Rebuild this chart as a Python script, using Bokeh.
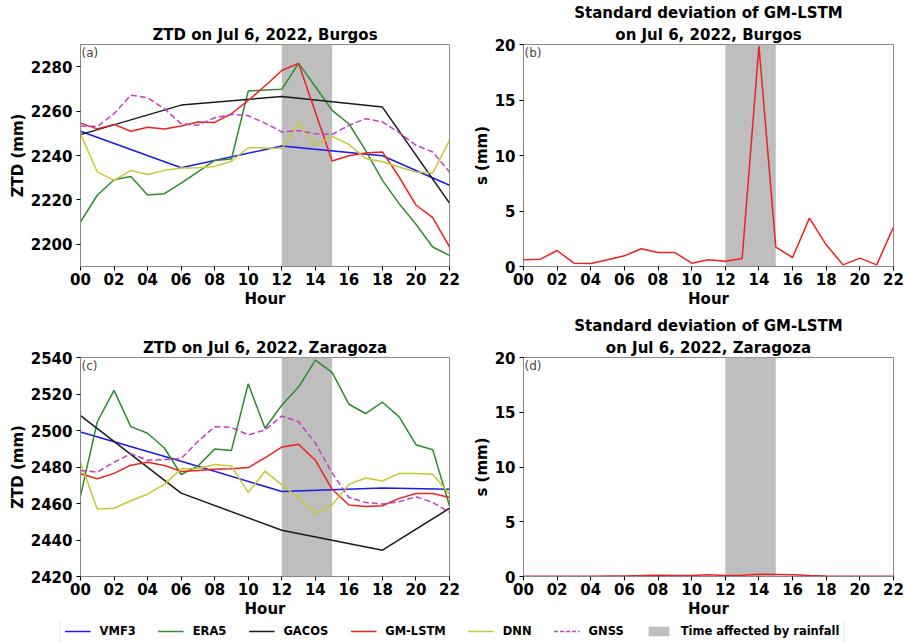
from bokeh.plotting import figure
from bokeh.models import Range1d, FixedTicker, BoxAnnotation, Label, Title, Legend, LegendItem
from bokeh.layouts import column, row
from bokeh.embed import file_html
from bokeh.resources import INLINE

# ---------------- data ----------------
HOURS = list(range(23))
HOURS_6H = [0, 6, 12, 18, 22]
HOUR_TICKS = [0, 2, 4, 6, 8, 10, 12, 14, 16, 18, 20, 22]
HOUR_LABELS = ["00", "02", "04", "06", "08", "10", "12", "14", "16", "18", "20", "22"]
RAIN_START = 12
RAIN_END = 15

# Burgos ZTD (mm)
burgos_vmf3 = [2250.9, 2234.5, 2244.3, 2239.9, 2226.6]
burgos_gacos = [2249.4, 2262.7, 2266.6, 2261.8, 2218.6]
burgos_era5 = [2210.1, 2222.1, 2229.1, 2230.5, 2222.2, 2222.8, 2227.6, 2232.6, 2237.8, 2238.4,
               2269.0, 2269.5, 2269.8, 2281.5, 2271.1, 2260.3, 2254.3, 2242.3, 2228.8, 2218.3,
               2209.0, 2198.8, 2195.0]
burgos_gmlstm = [2254.6, 2252.0, 2254.0, 2250.9, 2252.7, 2251.9, 2253.3, 2255.1, 2254.9, 2258.8,
                 2264.8, 2271.3, 2278.3, 2281.5, 2259.6, 2237.5, 2239.9, 2241.1, 2241.6, 2230.3,
                 2217.7, 2212.0, 2198.8]
burgos_dnn = [2249.8, 2232.6, 2228.8, 2233.3, 2231.4, 2233.3, 2234.4, 2234.5, 2235.1, 2237.4,
              2243.5, 2243.4, 2243.1, 2254.6, 2244.6, 2248.6, 2245.0, 2238.6, 2237.2, 2234.8,
              2232.6, 2232.1, 2246.8]
burgos_gnss = [2253.3, 2253.1, 2258.8, 2267.2, 2266.0, 2261.1, 2254.3, 2253.6, 2257.0, 2258.5,
               2257.9, 2254.6, 2250.6, 2251.2, 2249.8, 2249.5, 2253.6, 2256.6, 2255.1, 2250.3,
               2244.6, 2241.6, 2232.6]
burgos_std = [0.6, 0.66, 1.44, 0.3, 0.27, 0.6, 0.96, 1.6, 1.26, 1.26, 0.3, 0.6, 0.48, 0.72,
              19.85, 1.74, 0.81, 4.36, 1.95, 0.15, 0.75, 0.15, 3.55]

# Zaragoza ZTD (mm)
zaragoza_vmf3 = [2499.2, 2483.2, 2466.6, 2468.5, 2467.8]
zaragoza_gacos = [2508.2, 2465.7, 2445.3, 2434.4, 2457.4]
zaragoza_era5 = [2464.2, 2504.8, 2522.0, 2502.1, 2498.5, 2490.4, 2475.9, 2480.5, 2489.8, 2489.1,
                 2525.6, 2501.2, 2513.8, 2523.8, 2538.6, 2531.9, 2514.4, 2509.3, 2515.5, 2507.5,
                 2492.2, 2489.5, 2458.8]
zaragoza_gmlstm = [2476.3, 2473.6, 2476.5, 2481.0, 2482.6, 2480.8, 2477.6, 2478.1, 2478.7, 2479.0,
                   2479.7, 2485.0, 2490.9, 2492.5, 2483.7, 2467.8, 2459.2, 2458.4, 2458.8, 2462.8,
                   2465.5, 2465.5, 2463.3]
zaragoza_dnn = [2482.3, 2457.0, 2457.4, 2461.5, 2465.1, 2470.5, 2479.0, 2479.2, 2481.4, 2480.5,
                2466.0, 2477.7, 2470.2, 2463.3, 2454.6, 2459.2, 2470.5, 2474.0, 2472.3, 2476.5,
                2476.5, 2476.0, 2465.1]
zaragoza_gnss = [2478.1, 2477.2, 2482.6, 2487.3, 2483.7, 2484.1, 2484.6, 2494.0, 2502.1, 2501.7,
                 2497.6, 2500.3, 2507.9, 2504.8, 2493.1, 2476.8, 2463.3, 2460.6, 2459.7, 2461.0,
                 2463.7, 2460.6, 2455.2]
zaragoza_std = [0.02, 0.02, 0.02, 0.03, 0.03, 0.04, 0.05, 0.08, 0.12, 0.1, 0.1, 0.15, 0.1, 0.12,
                0.2, 0.18, 0.15, 0.08, 0.05, 0.03, 0.02, 0.02, 0.02]

LEGEND_LABELS = ["VMF3", "ERA5", "GACOS", "GM-LSTM", "DNN", "GNSS", "Time affected by rainfall"]

# ---------------- styles ----------------
FONT = "DejaVu Sans"
C_VMF3 = "#1a1aee"
C_ERA5 = "#2e8b2e"
C_GACOS = "#1a1a1a"
C_GMLSTM = "#ee2020"
C_DNN = "#c8c832"
C_GNSS = "#c040c0"
C_RAIN = "#bebebe"
LW = 1.5
NAN = float("nan")


def make_panel(width, height, left, right, top, bottom, titles, ylabel, y0, y1, yticks, tag):
    p = figure(width=width, height=height, output_backend="svg", toolbar_location=None,
               x_range=Range1d(0, 22), y_range=Range1d(y0, y1),
               min_border_left=left, min_border_right=right,
               min_border_top=top, min_border_bottom=bottom)
    p.title.text = titles[0]
    p.title.align = "center"
    p.title.text_font = FONT
    p.title.text_font_size = "15px"
    p.title.text_font_style = "bold"
    p.title.text_color = "black"
    p.title.standoff = 2
    for t in titles[1:]:
        p.add_layout(Title(text=t, align="center", text_font=FONT, text_font_size="15px",
                           text_font_style="bold", text_color="black", standoff=2), "above")
    p.grid.visible = False
    p.outline_line_color = "#888888"
    p.background_fill_color = "white"
    p.border_fill_color = "white"
    for ax in (p.xaxis, p.yaxis):
        ax.axis_line_color = "#888888"
        ax.major_tick_line_color = "black"
        ax.major_tick_out = 4
        ax.major_tick_in = 0
        ax.minor_tick_line_color = None
        ax.major_label_text_font = FONT
        ax.major_label_text_font_size = "15px"
        ax.major_label_text_font_style = "bold"
        ax.major_label_text_color = "black"
        ax.axis_label_text_font = FONT
        ax.axis_label_text_font_size = "15px"
        ax.axis_label_text_font_style = "bold"
        ax.axis_label_text_color = "black"
    p.xaxis.ticker = FixedTicker(ticks=HOUR_TICKS)
    p.xaxis.major_label_overrides = dict(zip(HOUR_TICKS, HOUR_LABELS))
    p.xaxis.axis_label = "Hour"
    p.xaxis.major_label_standoff = 2
    p.xaxis.axis_label_standoff = 2
    p.yaxis.ticker = FixedTicker(ticks=yticks)
    p.yaxis.axis_label = ylabel
    p.yaxis.major_label_standoff = 4
    p.yaxis.axis_label_standoff = 1
    p.add_layout(BoxAnnotation(left=RAIN_START, right=RAIN_END, fill_color=C_RAIN, fill_alpha=1.0,
                               line_color=None, level="underlay"))
    p.add_layout(Label(x=0, y=y1, text=tag, text_font=FONT, text_font_size="12px",
                       text_color="#444444", text_align="left", text_baseline="top",
                       x_offset=1, y_offset=-1))
    return p


def ztd_panel(pa, vmf3, gacos, era5, gmlstm, dnn, gnss):
    pa.line(HOURS_6H, vmf3, line_color=C_VMF3, line_width=LW)
    pa.line(HOURS, era5, line_color=C_ERA5, line_width=LW)
    pa.line(HOURS_6H, gacos, line_color=C_GACOS, line_width=LW)
    pa.line(HOURS, gmlstm, line_color=C_GMLSTM, line_width=LW)
    pa.line(HOURS, dnn, line_color=C_DNN, line_width=LW)
    pa.line(HOURS, gnss, line_color=C_GNSS, line_width=LW, line_dash="6 3")


ZTD_A_TICKS = [2200, 2220, 2240, 2260, 2280]
ZTD_C_TICKS = [2420, 2440, 2460, 2480, 2500, 2520, 2540]
STD_TICKS = [0, 5, 10, 15, 20]

pa = make_panel(460, 310, 80, 11, 44, 44, ["ZTD on Jul 6, 2022, Burgos"], "ZTD (mm)",
                2190, 2290, ZTD_A_TICKS, "(a)")
ztd_panel(pa, burgos_vmf3, burgos_gacos, burgos_era5, burgos_gmlstm, burgos_dnn, burgos_gnss)

pb = make_panel(444, 310, 63, 11, 44, 44,
                ["Standard deviation of GM-LSTM", "on Jul 6, 2022, Burgos"], "s (mm)",
                0, 20, STD_TICKS, "(b)")
pb.line(HOURS, burgos_std, line_color=C_GMLSTM, line_width=LW)

pc = make_panel(460, 310, 80, 11, 47, 42, ["ZTD on Jul 6, 2022, Zaragoza"], "ZTD (mm)",
                2420, 2540, ZTD_C_TICKS, "(c)")
ztd_panel(pc, zaragoza_vmf3, zaragoza_gacos, zaragoza_era5, zaragoza_gmlstm, zaragoza_dnn, zaragoza_gnss)

pd_ = make_panel(444, 310, 63, 11, 47, 42,
                 ["Standard deviation of GM-LSTM", "on Jul 6, 2022, Zaragoza"], "s (mm)",
                 0, 20, STD_TICKS, "(d)")
pd_.line(HOURS, zaragoza_std, line_color=C_GMLSTM, line_width=LW)

# ---------------- legend strip ----------------
pl = figure(width=904, height=22, output_backend="svg", toolbar_location=None,
            x_range=Range1d(0, 1), y_range=Range1d(0, 1), min_border=0)
pl.axis.visible = False
pl.grid.visible = False
pl.outline_line_color = None
r1 = pl.line(x=[NAN], y=[NAN], line_color=C_VMF3, line_width=LW)
r2 = pl.line(x=[NAN], y=[NAN], line_color=C_ERA5, line_width=LW)
r3 = pl.line(x=[NAN], y=[NAN], line_color=C_GACOS, line_width=LW)
r4 = pl.line(x=[NAN], y=[NAN], line_color=C_GMLSTM, line_width=LW)
r5 = pl.line(x=[NAN], y=[NAN], line_color=C_DNN, line_width=LW)
r6 = pl.line(x=[NAN], y=[NAN], line_color=C_GNSS, line_width=LW, line_dash="4 2")
r7 = pl.quad(left=[NAN], right=[NAN], top=[NAN], bottom=[NAN], fill_color=C_RAIN, line_color=None)
legend = Legend(items=[LegendItem(label=lab, renderers=[r])
                       for lab, r in zip(LEGEND_LABELS, [r1, r2, r3, r4, r5, r6, r7])],
                orientation="horizontal", location="center",
                label_text_font=FONT, label_text_font_size="11.5px", label_text_font_style="bold",
                label_text_color="black", glyph_width=26, glyph_height=12, label_height=12,
                label_standoff=9, spacing=22, padding=4, margin=0,
                border_line_color="#d0d0d0", border_line_width=1, background_fill_color="white")
pl.add_layout(legend, "center")

layout = column(row(pa, pb), row(pc, pd_), pl)
open("out.html", "w").write(file_html(layout, INLINE))
